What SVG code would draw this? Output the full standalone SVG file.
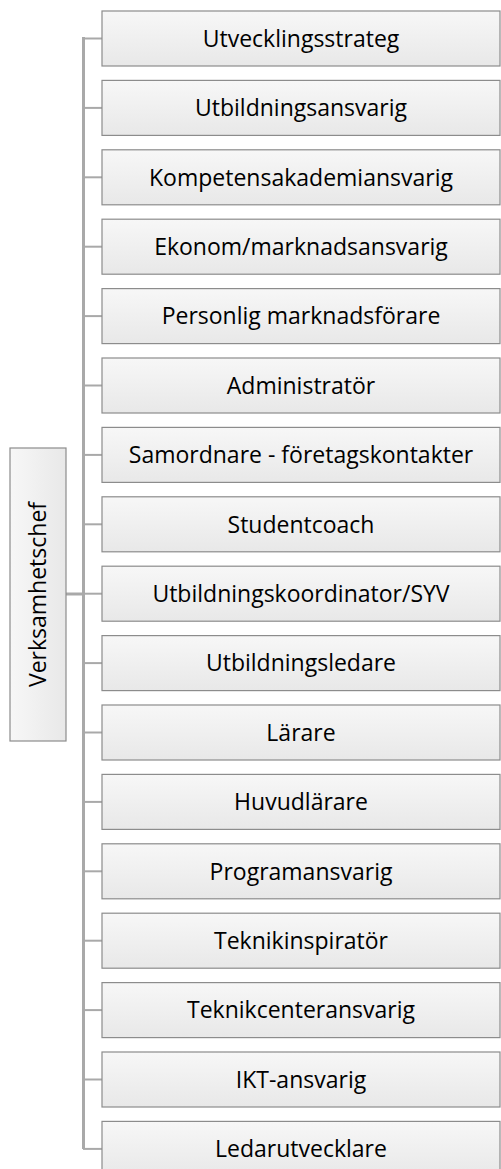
<svg xmlns="http://www.w3.org/2000/svg" width="501" height="1169" viewBox="0 0 501 1169">
<defs>
<linearGradient id="g" x1="0" y1="0" x2="0" y2="1">
<stop offset="0" stop-color="#f7f7f7"/>
<stop offset="1" stop-color="#e8e8e8"/>
</linearGradient>
<linearGradient id="gl" x1="0" y1="0" x2="1" y2="0">
<stop offset="0" stop-color="#f7f7f7"/>
<stop offset="1" stop-color="#e8e8e8"/>
</linearGradient>
</defs>
<style>
.box{fill:url(#g);stroke:#8c8c8c;stroke-width:1.2}
.lbox{fill:url(#gl);stroke:#8c8c8c;stroke-width:1.2}
.t{font-family:"Open Sans","Liberation Sans",sans-serif;font-size:23px;fill:#000;text-anchor:middle}
.c{stroke:#a9a9a9;fill:none}
</style>
<rect width="501" height="1169" fill="#fff"/>
<g id="connectors">
<line class="c" x1="83.5" y1="37" x2="83.5" y2="1149" stroke-width="3"/>
<line class="c" x1="66" y1="594" x2="84" y2="594" stroke-width="3"/>
<line class="c" x1="83" y1="38.5" x2="102" y2="38.5" stroke-width="2"/>
<line class="c" x1="83" y1="107.9" x2="102" y2="107.9" stroke-width="2"/>
<line class="c" x1="83" y1="177.3" x2="102" y2="177.3" stroke-width="2"/>
<line class="c" x1="83" y1="246.7" x2="102" y2="246.7" stroke-width="2"/>
<line class="c" x1="83" y1="316.1" x2="102" y2="316.1" stroke-width="2"/>
<line class="c" x1="83" y1="385.5" x2="102" y2="385.5" stroke-width="2"/>
<line class="c" x1="83" y1="454.9" x2="102" y2="454.9" stroke-width="2"/>
<line class="c" x1="83" y1="524.3" x2="102" y2="524.3" stroke-width="2"/>
<line class="c" x1="83" y1="593.7" x2="102" y2="593.7" stroke-width="2"/>
<line class="c" x1="83" y1="663.1" x2="102" y2="663.1" stroke-width="2"/>
<line class="c" x1="83" y1="732.5" x2="102" y2="732.5" stroke-width="2"/>
<line class="c" x1="83" y1="801.9" x2="102" y2="801.9" stroke-width="2"/>
<line class="c" x1="83" y1="871.3" x2="102" y2="871.3" stroke-width="2"/>
<line class="c" x1="83" y1="940.7" x2="102" y2="940.7" stroke-width="2"/>
<line class="c" x1="83" y1="1010.1" x2="102" y2="1010.1" stroke-width="2"/>
<line class="c" x1="83" y1="1079.5" x2="102" y2="1079.5" stroke-width="2"/>
<line class="c" x1="83" y1="1148.9" x2="102" y2="1148.9" stroke-width="2"/>
</g>
<g id="verksamhetschef">
<rect class="lbox" x="10" y="448" width="56" height="293"/>
<text class="t" transform="translate(46,594.5) rotate(-90)">Verksamhetschef</text>
</g>
<g id="n1"><rect class="box" x="102" y="11" width="398" height="55"/><text class="t" x="301" y="46.7">Utvecklingsstrateg</text></g>
<g id="n2"><rect class="box" x="102" y="80.4" width="398" height="55"/><text class="t" x="301" y="116.1">Utbildningsansvarig</text></g>
<g id="n3"><rect class="box" x="102" y="149.8" width="398" height="55"/><text class="t" x="301" y="185.5">Kompetensakademiansvarig</text></g>
<g id="n4"><rect class="box" x="102" y="219.2" width="398" height="55"/><text class="t" x="301" y="254.9">Ekonom/marknadsansvarig</text></g>
<g id="n5"><rect class="box" x="102" y="288.6" width="398" height="55"/><text class="t" x="301" y="324.3">Personlig marknadsförare</text></g>
<g id="n6"><rect class="box" x="102" y="358" width="398" height="55"/><text class="t" x="301" y="393.7">Administratör</text></g>
<g id="n7"><rect class="box" x="102" y="427.4" width="398" height="55"/><text class="t" x="301" y="463.1">Samordnare - företagskontakter</text></g>
<g id="n8"><rect class="box" x="102" y="496.8" width="398" height="55"/><text class="t" x="301" y="532.5">Studentcoach</text></g>
<g id="n9"><rect class="box" x="102" y="566.2" width="398" height="55"/><text class="t" x="301" y="601.9">Utbildningskoordinator/SYV</text></g>
<g id="n10"><rect class="box" x="102" y="635.6" width="398" height="55"/><text class="t" x="301" y="671.3">Utbildningsledare</text></g>
<g id="n11"><rect class="box" x="102" y="705" width="398" height="55"/><text class="t" x="301" y="740.7">Lärare</text></g>
<g id="n12"><rect class="box" x="102" y="774.4" width="398" height="55"/><text class="t" x="301" y="810.1">Huvudlärare</text></g>
<g id="n13"><rect class="box" x="102" y="843.8" width="398" height="55"/><text class="t" x="301" y="879.5">Programansvarig</text></g>
<g id="n14"><rect class="box" x="102" y="913.2" width="398" height="55"/><text class="t" x="301" y="948.9">Teknikinspiratör</text></g>
<g id="n15"><rect class="box" x="102" y="982.6" width="398" height="55"/><text class="t" x="301" y="1018.3">Teknikcenteransvarig</text></g>
<g id="n16"><rect class="box" x="102" y="1052" width="398" height="55"/><text class="t" x="301" y="1087.7">IKT-ansvarig</text></g>
<g id="n17"><rect class="box" x="102" y="1121.4" width="398" height="55"/><text class="t" x="301" y="1157.1">Ledarutvecklare</text></g>
</svg>
